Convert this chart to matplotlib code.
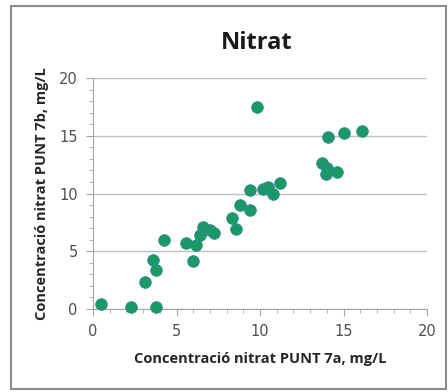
import matplotlib.pyplot as plt
from matplotlib.patches import Rectangle
from matplotlib.ticker import MultipleLocator

# nitrat PUNT 7a (x) vs PUNT 7b (y), mg/L
punt7a = [0.5, 2.25, 3.75, 3.1, 3.6, 3.75, 4.25, 5.55, 6.0, 6.15, 6.4, 6.6, 7.0,
          7.25, 8.3, 8.55, 8.8, 9.4, 9.4, 9.8, 10.15, 10.5, 10.8, 11.2,
          13.7, 14.0, 13.95, 14.6, 14.1, 15.0, 16.1]
punt7b = [0.45, 0.2, 0.2, 2.3, 4.2, 3.4, 6.0, 5.7, 4.15, 5.5, 6.4, 7.1, 6.8,
          6.6, 7.9, 6.9, 9.0, 8.6, 10.3, 17.45, 10.35, 10.6, 10.0, 10.9,
          12.6, 12.25, 11.7, 11.9, 14.9, 15.2, 15.4]

W, H = 448, 392
fig = plt.figure(figsize=(W/100, H/100), dpi=100)
fig.patches.append(Rectangle((11/W, 3/H), 435/W, 383/H, transform=fig.transFigure,
                             fill=False, edgecolor='#8c8c8c', linewidth=1.5))

ax = fig.add_axes([93/W, 1 - 309/H, 334/W, 231/H])
ax.scatter(punt7a, punt7b, s=70, color='#1a9a62', edgecolors='#2c86a0',
           linewidths=0.6, zorder=3, clip_on=False)

ax.set_xlim(0, 20)
ax.set_ylim(0, 20)
ax.xaxis.set_major_locator(MultipleLocator(5))
ax.yaxis.set_major_locator(MultipleLocator(5))
ax.xaxis.set_minor_locator(MultipleLocator(1))
ax.yaxis.set_minor_locator(MultipleLocator(1))
ax.grid(axis='y', which='major', color='#c0c0c0', linewidth=1.0)
ax.set_axisbelow(True)
for s in ['top', 'right']:
    ax.spines[s].set_visible(False)
for s in ['left', 'bottom']:
    ax.spines[s].set_color('#a6a6a6')
ax.tick_params(which='major', length=5, color='#a6a6a6', labelsize=10.5,
               labelcolor='#505050', pad=6)
ax.tick_params(which='minor', length=3, color='#a6a6a6')

lab = dict(fontsize=10.5, fontweight='bold', color='#262626', family='Open Sans')
ax.set_xlabel('Concentració nitrat PUNT 7a, mg/L', labelpad=9, **lab)
ax.set_ylabel('Concentració nitrat PUNT 7b, mg/L', labelpad=7, **lab)
fig.text(257/W, 1 - 43/H, 'Nitrat', ha='center', va='center', fontsize=17,
         fontweight='bold', color='#1a1a1a', family='Open Sans')

fig.savefig('out.png', dpi=100)
